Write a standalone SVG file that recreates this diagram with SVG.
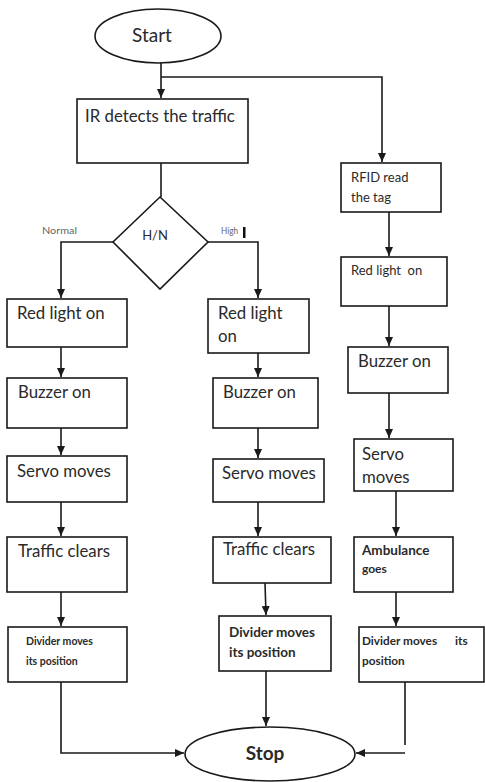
<svg xmlns="http://www.w3.org/2000/svg" width="485" height="782" viewBox="0 0 485 782">
<style>
.box{fill:#fff;stroke:#1a1a1a;stroke-width:1.6}
.ln{fill:none;stroke:#1a1a1a;stroke-width:1.6}
.t{font-family:Lato,"Open Sans",sans-serif;fill:#2a2a2a;font-size:16.8px}
.s{font-family:Lato,"Open Sans",sans-serif;fill:#2a2a2a;font-size:13px}
.b{font-family:Lato,"Open Sans",sans-serif;fill:#2a2a2a;font-size:10.5px;font-weight:bold}
.tiny{font-family:Lato,"Open Sans",sans-serif;fill:#666;font-size:9px}
</style>
<defs>
<marker id="ah" markerWidth="10" markerHeight="10" refX="9" refY="5" orient="auto" markerUnits="userSpaceOnUse">
<path d="M0,1 L9,5 L0,9 Z" fill="#1a1a1a"/>
</marker>
</defs>
<rect width="485" height="782" fill="#fff"/>
<g id="connectors">
<path class="ln" d="M161,63 V98" marker-end="url(#ah)"/>
<path class="ln" d="M161,77 H382 V162" marker-end="url(#ah)"/>
<path class="ln" d="M161,163 V197"/>
<path class="ln" d="M113,242 H61 V298" marker-end="url(#ah)"/>
<path class="ln" d="M208,242 H258 V298" marker-end="url(#ah)"/>
<path class="ln" d="M61,347 V377" marker-end="url(#ah)"/>
<path class="ln" d="M61,428 V455" marker-end="url(#ah)"/>
<path class="ln" d="M61,502 V536" marker-end="url(#ah)"/>
<path class="ln" d="M61,592 V626" marker-end="url(#ah)"/>
<path class="ln" d="M61,682 V753 H184" marker-end="url(#ah)"/>
<path class="ln" d="M258,353 V377" marker-end="url(#ah)"/>
<path class="ln" d="M258,428 V458" marker-end="url(#ah)"/>
<path class="ln" d="M258,502 V536" marker-end="url(#ah)"/>
<path class="ln" d="M265,583 L266,615" marker-end="url(#ah)"/>
<path class="ln" d="M266,671 V726" marker-end="url(#ah)"/>
<path class="ln" d="M389,212 V256" marker-end="url(#ah)"/>
<path class="ln" d="M389,306 V346" marker-end="url(#ah)"/>
<path class="ln" d="M389,393 V438" marker-end="url(#ah)"/>
<path class="ln" d="M396,491 V536" marker-end="url(#ah)"/>
<path class="ln" d="M396,583 V626" marker-end="url(#ah)"/>
<path class="ln" d="M405,682 V745"/>
<path class="ln" d="M405,753 H356" marker-end="url(#ah)"/>
<text class="tiny" x="42" y="234" textLength="35" lengthAdjust="spacingAndGlyphs">Normal</text>
<text class="tiny" x="221" y="234" textLength="17" lengthAdjust="spacingAndGlyphs">High</text>
<rect x="243" y="227" width="2.5" height="11" fill="#111"/>
</g>
<g id="start">
<ellipse cx="158" cy="36" rx="63" ry="27" class="box"/>
<text class="t" x="152" y="42" text-anchor="middle" style="font-size:19px">Start</text>
</g>
<g id="ir">
<rect class="box" x="77" y="99" width="171" height="64"/>
<text class="t" x="85" y="122">IR detects the traffic</text>
</g>
<g id="decision">
<polygon class="box" points="160,197 208,242 160,289 113,242"/>
<text class="s" x="155" y="240" text-anchor="middle">H/N</text>
</g>
<g id="n-red">
<rect class="box" x="7" y="299" width="120" height="48"/>
<text class="t" x="17" y="319">Red light on</text>
</g>
<g id="n-buzz">
<rect class="box" x="7" y="378" width="120" height="50"/>
<text class="t" x="18" y="398">Buzzer on</text>
</g>
<g id="n-servo">
<rect class="box" x="7" y="456" width="120" height="46"/>
<text class="t" x="17" y="477">Servo moves</text>
</g>
<g id="n-traffic">
<rect class="box" x="7" y="537" width="120" height="55"/>
<text class="t" x="18" y="557">Traffic clears</text>
</g>
<g id="n-divider">
<rect class="box" x="8" y="627" width="119" height="55"/>
<text class="b" x="26" y="645">Divider moves</text>
<text class="b" x="26" y="665">its position</text>
</g>
<g id="h-red">
<rect class="box" x="208" y="299" width="101" height="54"/>
<text class="t" x="218" y="319">Red light</text>
<text class="t" x="218" y="342">on</text>
</g>
<g id="h-buzz">
<rect class="box" x="213" y="378" width="105" height="50"/>
<text class="t" x="223" y="398">Buzzer on</text>
</g>
<g id="h-servo">
<rect class="box" x="213" y="459" width="111" height="43"/>
<text class="t" x="222" y="479">Servo moves</text>
</g>
<g id="h-traffic">
<rect class="box" x="213" y="537" width="118" height="46"/>
<text class="t" x="223" y="555">Traffic clears</text>
</g>
<g id="h-divider">
<rect class="box" x="219" y="616" width="112" height="55"/>
<text class="b" x="229" y="637" style="font-size:13.5px">Divider moves</text>
<text class="b" x="229" y="657" style="font-size:13.5px">its position</text>
</g>
<g id="rfid">
<rect class="box" x="341" y="163" width="100" height="49"/>
<text class="s" x="351" y="182">RFID read</text>
<text class="s" x="351" y="202">the tag</text>
</g>
<g id="r-red">
<rect class="box" x="341" y="257" width="106" height="49"/>
<text class="s" x="351" y="275" xml:space="preserve">Red light  on</text>
</g>
<g id="r-buzz">
<rect class="box" x="348" y="347" width="100" height="46"/>
<text class="t" x="358" y="367">Buzzer on</text>
</g>
<g id="r-servo">
<rect class="box" x="354" y="439" width="99" height="52"/>
<text class="t" x="362" y="460">Servo</text>
<text class="t" x="362" y="483">moves</text>
</g>
<g id="r-amb">
<rect class="box" x="354" y="537" width="99" height="55"/>
<text class="b" x="362" y="555" style="font-size:13.5px">Ambulance</text>
<text class="b" x="362" y="573" style="font-size:12px">goes</text>
</g>
<g id="r-divider">
<rect class="box" x="359" y="627" width="125" height="55"/>
<text class="b" x="362" y="645" style="font-size:11.8px">Divider moves<tspan x="455">its</tspan></text>
<text class="b" x="362" y="665" style="font-size:11.8px">position</text>
</g>
<g id="stop">
<ellipse cx="270" cy="754" rx="85" ry="27" class="box"/>
<text class="t" x="265" y="760" text-anchor="middle" style="font-size:19px;font-weight:bold">Stop</text>
</g>
</svg>
